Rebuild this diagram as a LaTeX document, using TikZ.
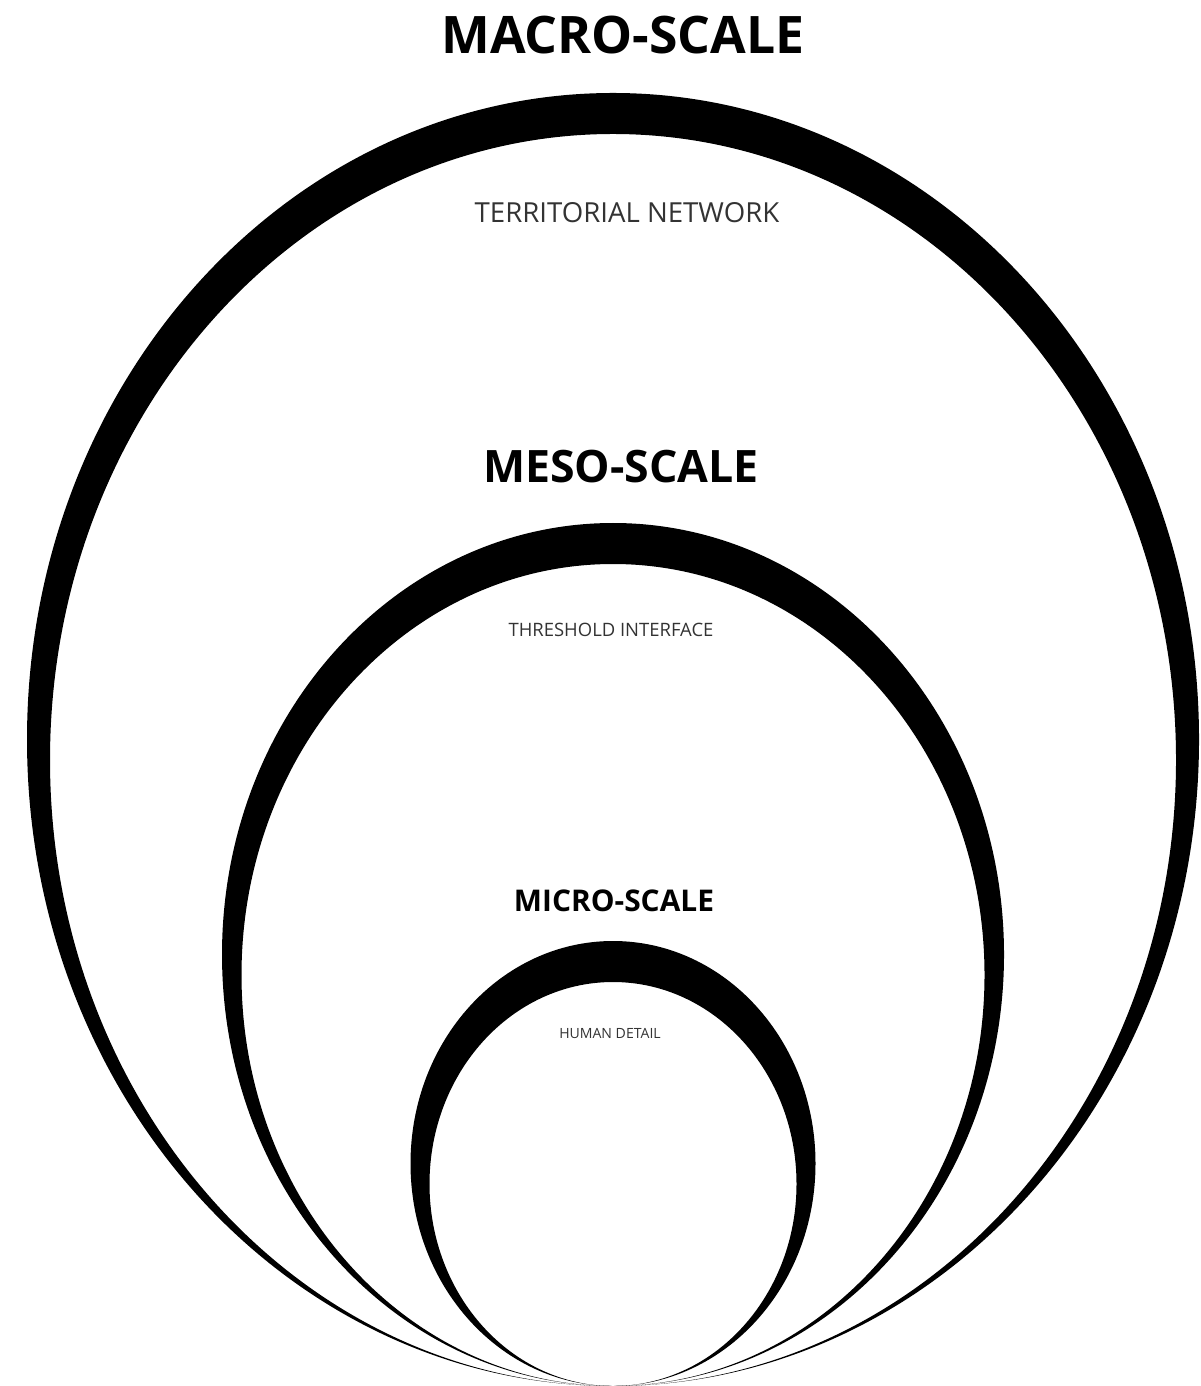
\documentclass[tikz,border=0pt]{standalone}
\usepackage{fontspec}
\setmainfont{Open Sans}
\begin{document}
\begin{tikzpicture}[x=0.01cm,y=-0.01cm,
    ring/.style={fill=black,even odd rule},
    scaletitle/.style={font=\bfseries,inner sep=0pt},
    scalenote/.style={text=black!80,inner sep=0pt}]
        % frame
        \useasboundingbox (0,0) rectangle (1201,1386);
        % macro ring
        \fill[ring] (613,739.5) ellipse [x radius=586,y radius=646.5]
                    (613,760) ellipse [x radius=563,y radius=626];
        % meso ring
        \fill[ring] (613,954.5) ellipse [x radius=391,y radius=431.5]
                    (613,975) ellipse [x radius=371.5,y radius=411];
        % micro ring
        \fill[ring] (613,1163.5) ellipse [x radius=202.5,y radius=222.5]
                    (613,1184) ellipse [x radius=183.5,y radius=202];
        % titles
        \node[scaletitle,font=\fontsize{14.7}{16}\selectfont\bfseries] (macro) at (623,35) {MACRO-SCALE};
        \node[scaletitle,font=\fontsize{12.7}{14}\selectfont\bfseries] (meso) at (621,467) {MESO-SCALE};
        \node[scaletitle,font=\fontsize{8.5}{10}\selectfont\bfseries] (micro) at (614,901) {MICRO-SCALE};
        % notes
        \node[scalenote,font=\fontsize{7.85}{9}\selectfont] (territorial) at (627,213) {TERRITORIAL NETWORK};
        \node[scalenote,font=\fontsize{5.25}{6}\selectfont] (threshold) at (611,630) {THRESHOLD INTERFACE};
        \node[scalenote,font=\fontsize{4}{5}\selectfont] (human) at (610,1034) {HUMAN DETAIL};
    \end{tikzpicture}
\end{document}
